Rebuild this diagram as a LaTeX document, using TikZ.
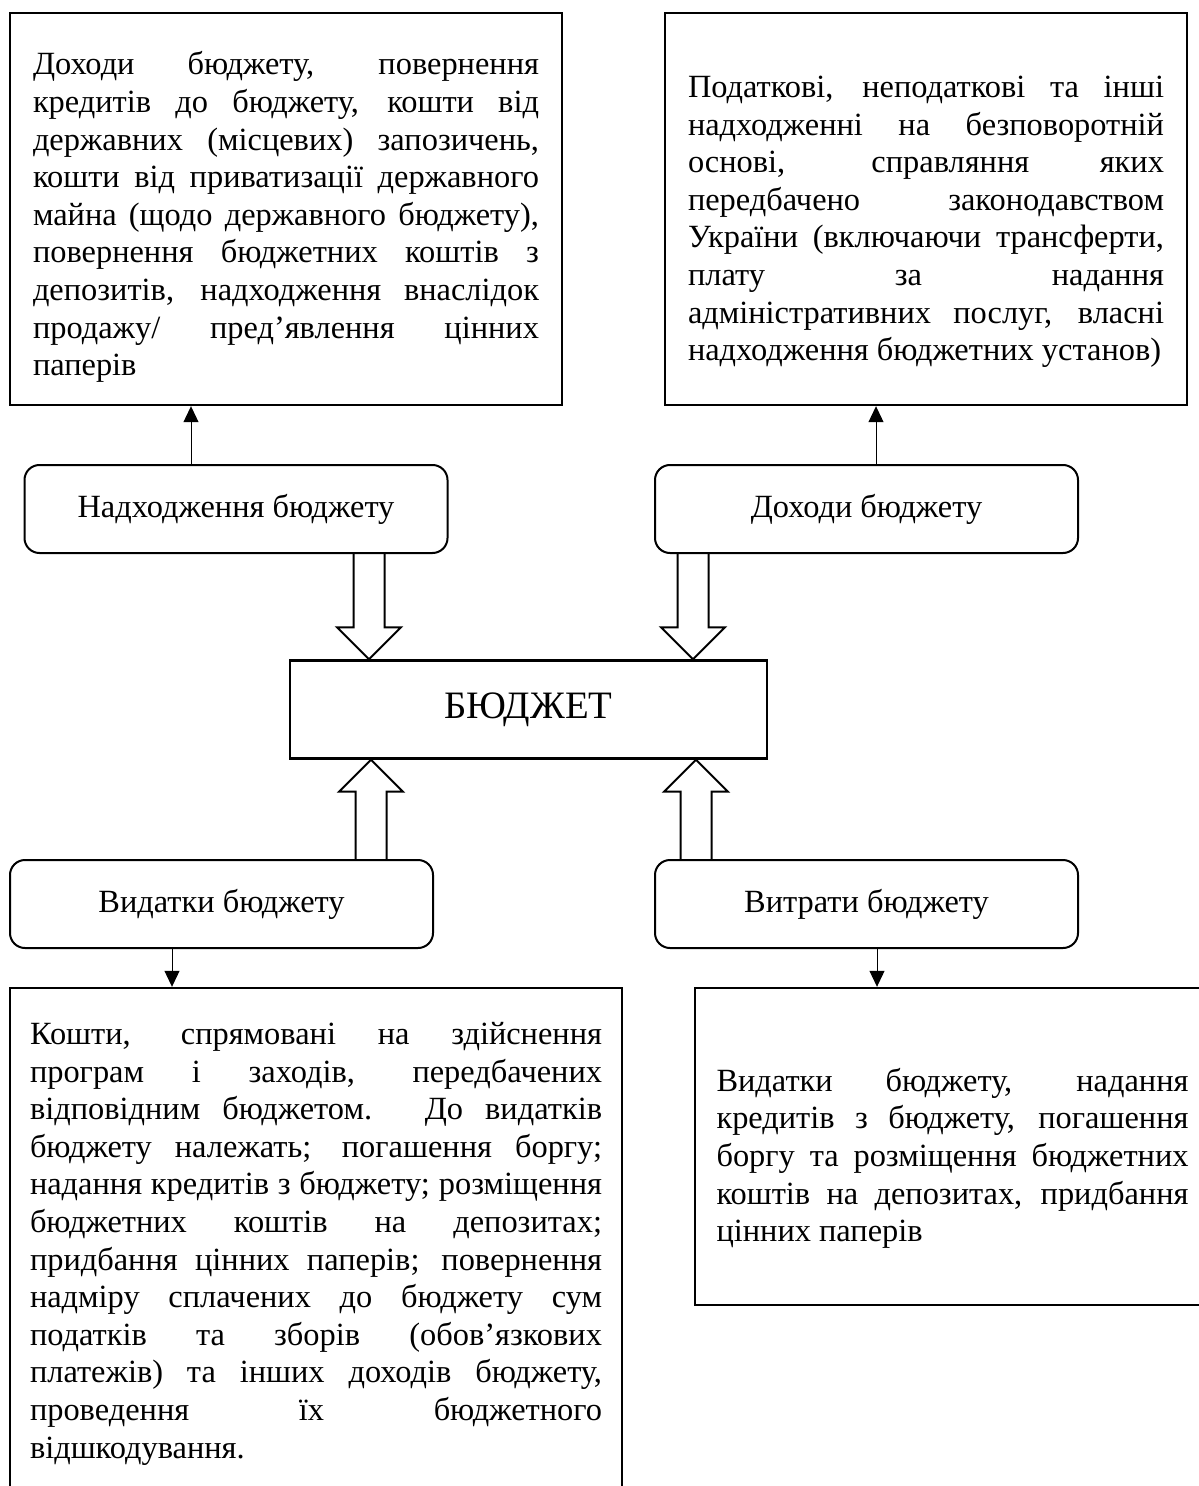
\documentclass[tikz,border=0pt]{standalone}
\usepackage{fontspec}
\setmainfont{Liberation Serif}
\usetikzlibrary{arrows.meta,calc,positioning}
\hyphenpenalty=10000
\tolerance=10000
\hbadness=10000

\newcommand{\fatarrow}[2]{%
  \coordinate (hb) at ($(#2)!16pt!(#1)$);
  \draw[fatline] ($(#1)!7.75pt!90:(#2)$) -- ($(hb)!7.75pt!90:(#2)$) -- ($(hb)!16pt!90:(#2)$) -- (#2)
    -- ($(hb)!16pt!-90:(#2)$) -- ($(hb)!7.75pt!-90:(#2)$) -- ($(#1)!7.75pt!-90:(#2)$);}

\begin{document}
\begin{tikzpicture}[x=0.5pt,y=-0.5pt,
  txtbox/.style={draw, rectangle, line width=1.2pt, inner sep=0pt, align=justify, font=\fontsize{16.2}{18.8}\selectfont},
  rbox/.style={draw, rectangle, line width=1pt, rounded corners=7.5pt, minimum width=211.5pt, minimum height=44pt, font=\fontsize{16.2}{18.8}\selectfont},
  pointer/.style={line width=0.5pt, -{Triangle[width=7.5pt,length=8pt]}},
  fatline/.style={line width=1pt, line join=miter}]
\useasboundingbox (0,0) rectangle (1198,1486);
\node[txtbox, minimum width=276pt, minimum height=196pt, text width=253pt, text height=19.8pt] (inTxt) at (286,209) {Доходи бюджету, повернення\linebreak кредитів до бюджету, кошти від\linebreak державних (місцевих) запозичень,\linebreak кошти від приватизації державного\linebreak майна (щодо державного бюджету),\linebreak повернення бюджетних коштів з\linebreak депозитів, надходження внаслідок\linebreak продажу/ пред’явлення цінних\linebreak паперів};
\node[txtbox, minimum width=261pt, minimum height=196pt, text width=238pt, text height=23.7pt] (incTxt) at (926,209) {Податкові, неподаткові та інші\linebreak надходженні на безповоротній\linebreak основі, справляння яких\linebreak передбачено законодавством\linebreak України (включаючи трансферти,\linebreak плату за надання\linebreak адміністративних послуг, власні\linebreak надходження бюджетних установ)};
\node[rbox] (nad) at (236,509) {Надходження бюджету};
\node[rbox] (doh) at (866.5,509) {Доходи бюджету};
\node[draw, rectangle, line width=1.2pt, minimum width=238.5pt, minimum height=49pt, font=\fontsize{19.4}{22}\selectfont] (bud) at (528.5,709.5) {БЮДЖЕТ};
\node[rbox] (vyd) at (221.5,904) {Видатки бюджету};
\node[rbox] (vyt) at (866.5,904) {Витрати бюджету};
\node[txtbox, minimum width=306pt, minimum height=255.6pt, text width=286pt] (vydTxt) at (316,1243.6) {Кошти, спрямовані на здійснення\linebreak програм і заходів, передбачених\linebreak відповідним бюджетом. До видатків\linebreak бюджету належать; погашення боргу;\linebreak надання кредитів з бюджету; розміщення\linebreak бюджетних коштів на депозитах;\linebreak придбання цінних паперів; повернення\linebreak надміру сплачених до бюджету сум\linebreak податків та зборів (обов’язкових\linebreak платежів) та інших доходів бюджету,\linebreak проведення їх бюджетного\linebreak відшкодування.};
\node[txtbox, minimum width=257.5pt, minimum height=158.5pt, text width=236pt, text height=23.4pt] (vytTxt) at (952.5,1146.5) {Видатки бюджету, надання\linebreak кредитів з бюджету, погашення\linebreak боргу та розміщення бюджетних\linebreak коштів на депозитах, придбання\linebreak цінних паперів};
\draw[pointer] ([xshift=-22.5pt]nad.north) -- ([xshift=-22.5pt]nad.north |- inTxt.south);
\draw[pointer] ([xshift=4.75pt]doh.north) -- ([xshift=4.75pt]doh.north |- incTxt.south);
\draw[pointer] ([xshift=-24.75pt]vyd.south) -- ([xshift=-24.75pt]vyd.south |- vydTxt.north);
\draw[pointer] ([xshift=5.25pt]vyt.south) -- ([xshift=5.25pt]vyt.south |- vytTxt.north);
\coordinate (a1) at ([xshift=66.5pt]nad.south);
\coordinate (a2) at ([xshift=-86.75pt]doh.south);
\coordinate (a3) at ([xshift=74.75pt]vyd.north);
\coordinate (a4) at ([xshift=-85.25pt]vyt.north);
\fatarrow{a1}{a1 |- bud.north}
\fatarrow{a2}{a2 |- bud.north}
\fatarrow{a3}{a3 |- bud.south}
\fatarrow{a4}{a4 |- bud.south}
\end{tikzpicture}
\end{document}
